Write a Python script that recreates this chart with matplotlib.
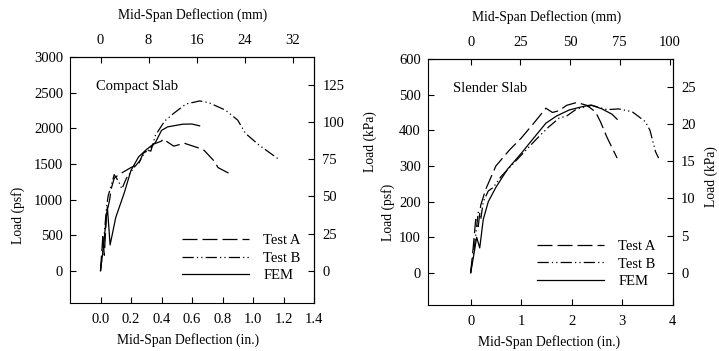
import numpy as np
import matplotlib
matplotlib.use('Agg')
import matplotlib.pyplot as plt

plt.rcParams['font.family'] = ['Liberation Serif', 'DejaVu Serif']
plt.rcParams['font.size'] = 10.5

# Compact slab (deflection in., load psf)
compact_a_x = [0, 0.015, 0.025, 0.04, 0.05, 0.06, 0.07, 0.09, 0.12, 0.2, 0.25, 0.28, 0.32, 0.35, 0.4, 0.41,
               0.48, 0.55, 0.65, 0.68, 0.75, 0.77, 0.85]
compact_a_y = [0, 480, 220, 820, 900, 1000, 1150, 1300, 1350, 1450, 1500, 1650, 1700, 1780, 1820, 1850,
               1750, 1790, 1720, 1690, 1530, 1450, 1360]
compact_b_x = [0, 0.02, 0.04, 0.05, 0.07, 0.09, 0.12, 0.14, 0.17, 0.22, 0.26, 0.3, 0.33, 0.36, 0.42, 0.48,
               0.56, 0.65, 0.71, 0.82, 0.9, 0.95, 1.04, 1.17]
compact_b_y = [0, 400, 900, 1050, 1200, 1350, 1250, 1150, 1300, 1450, 1550, 1700, 1680, 1900, 2100, 2210,
               2340, 2384, 2360, 2254, 2114, 1930, 1764, 1564]
compact_fem_x = [0, 0.02, 0.045, 0.063, 0.1, 0.155, 0.2, 0.25, 0.3, 0.36, 0.4, 0.44, 0.54, 0.6, 0.65]
compact_fem_y = [0, 350, 900, 364, 750, 1090, 1410, 1600, 1700, 1800, 1970, 2020, 2058, 2060, 2034]

# Slender slab (deflection in., load psf)
slender_a_x = [0, 0.05, 0.1, 0.15, 0.2, 0.3, 0.5, 0.77, 1.0, 1.25, 1.49, 1.62, 1.75, 1.9, 2.1, 2.3, 2.47,
               2.57, 2.7, 2.9]
slender_a_y = [0, 70, 150, 130, 190, 235, 300, 345, 378, 420, 462, 450, 455, 470, 478, 470, 452, 424, 380, 322]
slender_b_x = [0, 0.08, 0.15, 0.2, 0.25, 0.35, 0.45, 0.6, 0.8, 1.0, 1.3, 1.55, 1.75, 1.9, 2.1, 2.4, 2.7,
               2.93, 3.2, 3.46, 3.55, 3.66, 3.72]
slender_b_y = [0, 80, 170, 150, 200, 230, 240, 270, 300, 330, 375, 410, 434, 440, 460, 470, 458, 460, 452,
               424, 400, 340, 322]
slender_fem_x = [0, 0.05, 0.12, 0.18, 0.25, 0.35, 0.5, 0.73, 1.0, 1.2, 1.49, 1.7, 1.95, 2.2, 2.38, 2.6, 2.8, 2.9]
slender_fem_y = [0, 40, 100, 70, 150, 200, 240, 291, 335, 370, 420, 440, 457, 466, 471, 460, 445, 431]

series_labels = ['Test A', 'Test B', 'FEM']
dash_a = (0, (12, 4))
dash_b = (0, (9, 2.5, 1, 2.5, 1, 2.5))


def in2mm(x):
    return x * 25.4


def mm2in(x):
    return x / 25.4


def psf2kpa(y):
    return y * 0.04788


def kpa2psf(y):
    return y / 0.04788


W, H = 719, 351
fig = plt.figure(figsize=(W / 100, H / 100), dpi=100)


def setup(rect, xlim, xticks, xfmt, ylim, yticks, mmticks, kpaticks, title, data):
    ax = fig.add_axes(rect)
    (ax_x, ax_y), (bx, by), (fx, fy) = data
    ax.plot(ax_x, ax_y, color='black', lw=0.9, linestyle=dash_a, label=series_labels[0])
    ax.plot(bx, by, color='black', lw=0.9, linestyle=dash_b, label=series_labels[1])
    ax.plot(fx, fy, color='black', lw=0.9, linestyle='-', label=series_labels[2])
    ax.set_xlim(*xlim)
    ax.set_ylim(*ylim)
    ax.set_xticks(xticks)
    ax.set_xticklabels([xfmt.format(v) for v in xticks])
    ax.set_yticks(yticks)
    ax.tick_params(direction='in', length=4.5, width=0.8, pad=5)
    ax.tick_params(axis='x', pad=7)
    for s in ax.spines.values():
        s.set_linewidth(0.8)
    top = ax.secondary_xaxis('top', functions=(in2mm, mm2in))
    top.set_xticks(mmticks)
    top.tick_params(direction='in', length=4.5, width=0.8, pad=7)
    right = ax.secondary_yaxis('right', functions=(psf2kpa, kpa2psf))
    right.set_yticks(kpaticks)
    right.tick_params(direction='in', length=4.5, width=0.8, pad=6)
    ax.text(0.105, 0.88, title, transform=ax.transAxes, va='center', ha='left')
    return ax


def px(x, y):
    return x / W, 1 - y / H


ax1 = setup([70 / W, 48 / H, 244 / W, 246 / H], (-0.2, 1.4), np.arange(0, 1.41, 0.2), '{:.1f}',
            (-450, 3000), np.arange(0, 3001, 500), [0, 8, 16, 24, 32], [0, 25, 50, 75, 100, 125],
            'Compact Slab',
            ((compact_a_x, compact_a_y), (compact_b_x, compact_b_y), (compact_fem_x, compact_fem_y)))
ax1.legend(loc='lower right', bbox_to_anchor=(0.97, 0.06), frameon=False, handlelength=4.6,
           handletextpad=1.0, labelspacing=0.3, borderaxespad=0)

ax2 = setup([427.7 / W, 46 / H, 245 / W, 246 / H], (-0.85, 4), [0, 1, 2, 3, 4], '{:d}',
            (-90, 600), np.arange(0, 601, 100), [0, 25, 50, 75, 100], [0, 5, 10, 15, 20, 25],
            'Slender Slab',
            ((slender_a_x, slender_a_y), (slender_b_x, slender_b_y), (slender_fem_x, slender_fem_y)))
ax2.legend(loc='lower right', bbox_to_anchor=(0.955, 0.045), frameon=False, handlelength=4.6,
           handletextpad=1.0, labelspacing=0.3, borderaxespad=0)

# axis titles
lab = dict(ha='center', va='center', fontsize=9.8)
fig.text(*px(193, 15), 'Mid-Span Deflection (mm)', **lab)
fig.text(*px(188, 340), 'Mid-Span Deflection (in.)', **lab)
fig.text(*px(18, 215), 'Load (psf)', rotation=90, **lab)
fig.text(*px(547, 17), 'Mid-Span Deflection (mm)', **lab)
fig.text(*px(549, 342), 'Mid-Span Deflection (in.)', **lab)
fig.text(*px(370, 142), 'Load (kPa)', rotation=90, **lab)
fig.text(*px(388, 212), 'Load (psf)', rotation=90, **lab)
fig.text(*px(711, 177), 'Load (kPa)', rotation=90, **lab)

fig.savefig('out.png', dpi=100)
